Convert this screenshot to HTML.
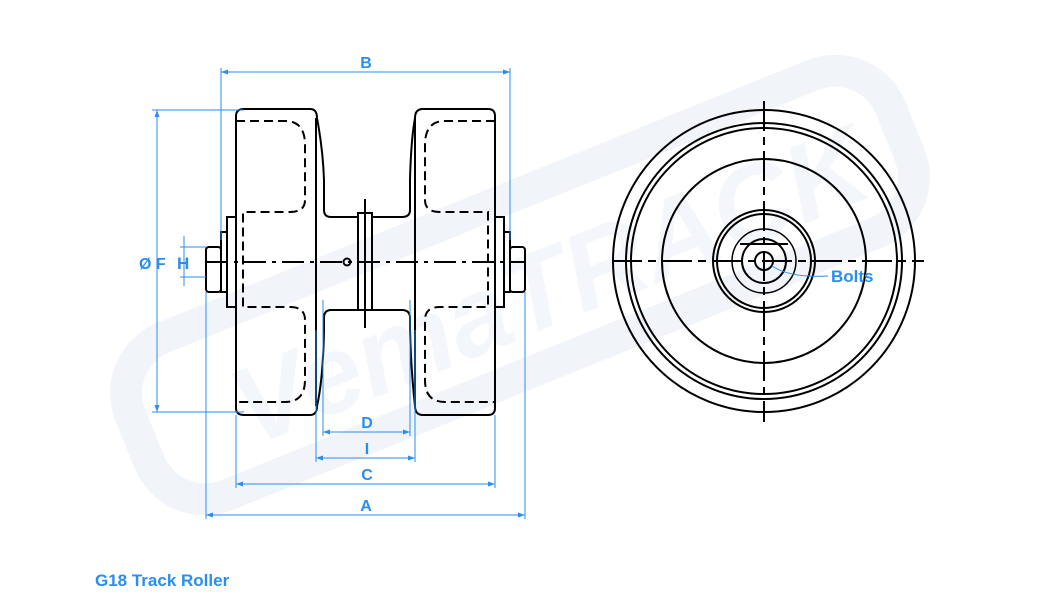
<!DOCTYPE html>
<html><head><style>
html,body{margin:0;padding:0;background:#fff;}
svg{display:block;}
text{font-family:"Liberation Sans",sans-serif;font-weight:bold;}
</style></head><body>
<svg width="1050" height="600" viewBox="0 0 1050 600" xmlns="http://www.w3.org/2000/svg">
<!-- watermark -->
<g transform="rotate(-22 520 285)" opacity="0.5">
<rect x="110" y="200" width="820" height="170" rx="60" fill="none" stroke="#e4ecf4" stroke-width="32"/>
<text x="210" y="335" font-size="110" fill="#e8eff6" font-style="italic">VemaTRACK</text>
</g>
<g fill="none" stroke="#000" stroke-width="2">
<path d="M244,109 H310 Q317,109 317,118 Q323,150 324,180 V210 Q324,217 331,217 H358"/>
<path d="M372,217 H402 Q410,217 410,210 V180 Q411,140 415,118 Q415,109 423,109 H488 Q495,109 495,116 V408 Q495,415 488,415 H423 Q415,415 415,406 Q411,370 410,330 V318 Q410,310 402,310 H372"/>
<path d="M358,310 H331 Q324,310 324,318 V330 Q323,380 317,406 Q317,415 310,415 H244 Q236,415 236,408 V116 Q236,109 244,109"/>
<line x1="316" y1="118" x2="316" y2="406"/>
<line x1="415" y1="118" x2="415" y2="406"/>
<rect x="358" y="213" width="14" height="97"/>
<line x1="365" y1="199" x2="365" y2="328"/>
<rect x="227" y="217" width="9" height="90"/>
<rect x="221" y="232" width="6" height="60"/>
<rect x="206" y="247" width="15" height="45" rx="3"/>
<rect x="495" y="217" width="9" height="90"/>
<rect x="504" y="232" width="6" height="60"/>
<rect x="510" y="247" width="15" height="45" rx="3"/>
<circle cx="347" cy="262" r="3.5"/>
</g>
<g fill="none" stroke="#000" stroke-width="2" stroke-dasharray="9,5">
<path d="M236,121 H285 Q305,121 305,145 V200 Q305,212 290,212 H243 V307 H290 Q305,307 305,320 V380 Q305,402 285,402 H236"/>
<path d="M495,121 H445 Q425,121 425,145 V200 Q425,212 440,212 H488 V307 H440 Q425,307 425,320 V380 Q425,402 445,402 H495"/>
<line x1="206" y1="262" x2="525" y2="262" stroke-dasharray="22,6,4,6"/>
</g>
<!-- right view -->
<g fill="none" stroke="#000" stroke-width="2">
<circle cx="764" cy="261" r="151"/>
<circle cx="764" cy="261" r="138"/>
<circle cx="764" cy="261" r="133"/>
<circle cx="764" cy="261" r="102"/>
<circle cx="764" cy="261" r="51"/>
<circle cx="764" cy="261" r="47"/>
<circle cx="764" cy="261" r="32" stroke-width="1.5"/>
<circle cx="764" cy="261" r="22"/>
<circle cx="764" cy="261" r="9"/>
<line x1="740" y1="244" x2="788" y2="244"/>
<line x1="612" y1="261" x2="924" y2="261" stroke-dasharray="30,6,8,6"/>
<line x1="764" y1="101" x2="764" y2="422" stroke-dasharray="30,6,8,6"/>
</g>
<!-- dimensions -->
<g stroke="#2a8df0" stroke-width="1" fill="none">
<line x1="221" y1="68" x2="221" y2="240"/><line x1="510" y1="68" x2="510" y2="240"/>
<line x1="221" y1="72" x2="510" y2="72"/>
<line x1="152" y1="110" x2="244" y2="110"/><line x1="152" y1="412" x2="244" y2="412"/>
<line x1="157" y1="110" x2="157" y2="412"/>
<line x1="180" y1="247" x2="206" y2="247"/><line x1="180" y1="277" x2="206" y2="277"/>
<line x1="184" y1="236" x2="184" y2="286"/>
<line x1="323" y1="300" x2="323" y2="436"/><line x1="410" y1="300" x2="410" y2="436"/>
<line x1="323" y1="432" x2="410" y2="432"/>
<line x1="316" y1="330" x2="316" y2="462"/><line x1="415" y1="330" x2="415" y2="462"/>
<line x1="316" y1="458" x2="415" y2="458"/>
<line x1="236" y1="415" x2="236" y2="488"/><line x1="495" y1="415" x2="495" y2="488"/>
<line x1="236" y1="484" x2="495" y2="484"/>
<line x1="206" y1="292" x2="206" y2="519"/><line x1="525" y1="292" x2="525" y2="519"/>
<line x1="206" y1="515" x2="525" y2="515"/>
<path d="M772,266 Q790,278 828,276"/>
</g>
<g fill="#2a8df0">
<path d="M221,72 l7,-2.5 v5z M510,72 l-7,-2.5 v5z"/>
<path d="M157,110 l-2.5,7 h5z M157,412 l-2.5,-7 h5z"/>
<path d="M323,432 l7,-2.5 v5z M410,432 l-7,-2.5 v5z"/>
<path d="M316,458 l7,-2.5 v5z M415,458 l-7,-2.5 v5z"/>
<path d="M236,484 l7,-2.5 v5z M495,484 l-7,-2.5 v5z"/>
<path d="M206,515 l7,-2.5 v5z M525,515 l-7,-2.5 v5z"/>
</g>
<g fill="#2a8df0" font-size="16">
<text x="366" y="68" text-anchor="middle">B</text>
<text x="139" y="269">Ø F</text>
<text x="177" y="269" font-size="17">H</text>
<text x="367" y="428" text-anchor="middle">D</text>
<text x="367" y="454" text-anchor="middle">I</text>
<text x="367" y="480" text-anchor="middle">C</text>
<text x="366" y="511" text-anchor="middle">A</text>
<text x="831" y="282" font-size="17">Bolts</text>
<text x="95" y="586" font-size="17">G18 Track Roller</text>
</g>
</svg>
</body></html>
